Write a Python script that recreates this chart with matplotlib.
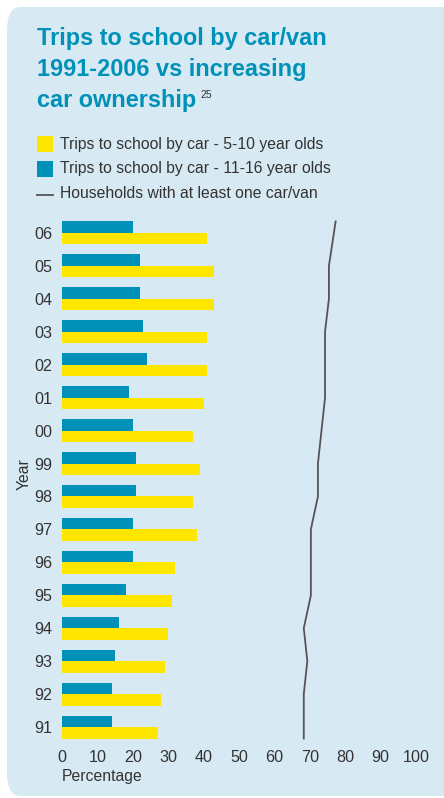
import numpy as np
import matplotlib.pyplot as plt
from matplotlib.patches import FancyBboxPatch, Rectangle
from matplotlib.lines import Line2D

plt.rcParams['font.family'] = ['Liberation Sans', 'DejaVu Sans']

years = ["91", "92", "93", "94", "95", "96", "97", "98",
         "99", "00", "01", "02", "03", "04", "05", "06"]
primary = [27, 28, 29, 30, 31, 32, 38, 37, 39, 37, 40, 41, 41, 43, 43, 41]
secondary = [14, 14, 15, 16, 18, 20, 20, 21, 21, 20, 19, 24, 23, 22, 22, 20]
households = [68.3, 68.3, 69.3, 68.3, 70.3, 70.3, 70.3, 72.3,
              72.3, 73.3, 74.3, 74.3, 74.3, 75.4, 75.4, 77.3]

yellow = "#ffe600"
teal = "#0091b9"
panel = "#d7e9f3"
ink = "#333333"

W, H = 444, 798
fig = plt.figure(figsize=(W / 100, H / 100), dpi=100)
fig.patch.set_facecolor("white")

def fx(px):
    return px / W

def fy(py):
    return 1 - py / H

# background panel
fig.patches.append(FancyBboxPatch((fx(7), fy(796)), fx(460), 789 / H,
                                  boxstyle="round,pad=0,rounding_size=0.03",
                                  transform=fig.transFigure, facecolor=panel,
                                  edgecolor="none", zorder=-5))

# title
title_lines = ["Trips to school by car/van", "1991-2006 vs increasing", "car ownership"]
for i, t in enumerate(title_lines):
    fig.text(fx(37), fy(38 + i * 31.5), t, color=teal, fontsize=16.9,
             fontweight="bold", va="center", ha="left")
fig.text(fx(200), fy(95), "25", color=ink, fontsize=7.5, va="center", ha="left")

# legend
fig.patches.append(Rectangle((fx(37), fy(152)), fx(16), 16 / H, transform=fig.transFigure,
                             facecolor=yellow, edgecolor="none"))
fig.patches.append(Rectangle((fx(37), fy(177)), fx(16), 16 / H, transform=fig.transFigure,
                             facecolor=teal, edgecolor="none"))
fig.lines.append(Line2D([fx(37), fx(53)], [fy(195), fy(195)], transform=fig.transFigure,
                        color="#555555", lw=1.3))
legend_txt = ["Trips to school by car - 5-10 year olds",
              "Trips to school by car - 11-16 year olds",
              "Households with at least one car/van"]
for i, t in enumerate(legend_txt):
    fig.text(fx(60), fy(144 + i * 25), t, color=ink, fontsize=11.3, va="center", ha="left")

# chart
ax = fig.add_axes([fx(62), fy(743.5), fx(416 - 62), (743.5 - 216.5) / H])
ax.set_facecolor("none")
pos = np.arange(len(years))
h = 0.35
ax.barh(pos - h / 2, primary, height=h, color=yellow)
ax.barh(pos + h / 2, secondary, height=h, color=teal)

# line runs from top of first group to bottom of last group
ly = pos.astype(float)
ly[0] -= h
ly[-1] += h
ax.plot(households, ly, color="#555555", lw=1.3)

ax.set_xlim(0, 100)
ax.set_ylim(-0.5, len(years) - 0.5)
ax.set_xticks(range(0, 101, 10))
ax.set_yticks(pos)
ax.set_yticklabels(years)
for s in ax.spines.values():
    s.set_visible(False)
ax.tick_params(length=0, labelsize=11.6, colors=ink)
ax.tick_params(axis="y", pad=7)
ax.tick_params(axis="x", pad=5)

fig.text(fx(62), fy(777), "Percentage", color=ink, fontsize=11.3, va="center", ha="left")
fig.text(fx(24), fy(474), "Year", color=ink, fontsize=11.3, va="center", ha="center",
         rotation=90)

fig.savefig("out.png", dpi=100, facecolor=fig.get_facecolor())
